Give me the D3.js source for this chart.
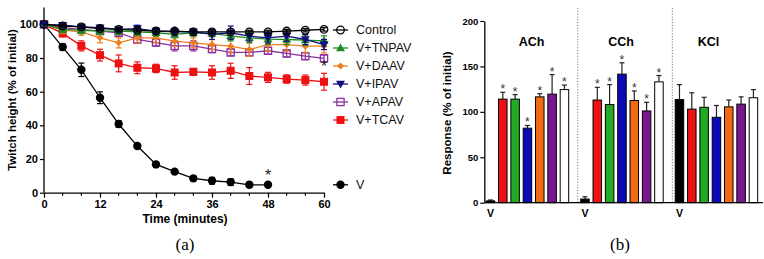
<!DOCTYPE html>
<html><head><meta charset="utf-8">
<script src="https://cdn.jsdelivr.net/npm/d3@7"></script>
<style>body{margin:0;background:#fff}svg{display:block}</style>
</head><body><svg id="c" width="764" height="259" font-family="Liberation Sans, Arial, sans-serif"></svg>
<script>
// ---------- Panel (a) data ----------
const times = [0,4,8,12,16,20,24,28,32,36,40,44,48,52,56,60];
const timesV = [0,4,8,12,16,20,24,28,32,36,40,44,48];
const controlVals = [100,99,98.5,97.5,97,96.5,96,96,95.5,95.5,95.5,95.5,95.5,96,96.5,97];
const controlErr  = [0,1,1,1,1,1,1,1,1,1,1,1,1,1,1,1];
const tnpavVals = [100,97,96.5,96,96,95.5,95,94,95,94.6,93.2,92,91.2,91,90.6,90.2];
const tnpavErr  = [0,2,2,2,2,2,2,2,2,2,3,3,3,3,3,3];
const daavVals = [100,96.5,95.5,92,89,92,92,90,89,88,87,85,88,88,87,87];
const daavErr  = [0,2,2,3,3,3,3,3,3,3,4,4,4,4,4,4];
const ipavVals = [100,99.5,98.5,98,97,97.5,96,95.5,95.5,94,95,93,92,93,91,88];
const ipavErr  = [0,1,1,1,1,2,2,2,2,3,4,3,3,3,3,3];
const apavVals = [100,98,97,96,95,91,89.2,87.2,87.2,85.3,83.3,83.3,84.3,82.7,81.1,79.8];
const apavErr  = [0,1,2,2,2,2,2,3,3,2,2,2,2,2,2,2];
const tcavVals = [100,94.6,87.2,81.7,76.8,74.2,73.8,71.4,71.8,71.4,72.4,69.3,68.5,67.5,66.9,65.9];
const tcavErr  = [0,2,3,3.5,5,3.5,2.5,4,2,4,4.5,5,3,2.5,3,5];
const vVals = [100,86.5,73,56.4,40.8,27.7,16.8,12.5,8.5,7.1,6.3,4.7,4.7];
const vErr  = [0,2,4,3.5,2,1.5,1.5,1,1.5,2,2,1.5,1];
const xTicksA = [0,12,24,36,48,60];
const yTicksA = [0,20,40,60,80,100];

// ---------- Panel (b) data ----------
const groups = ["ACh","CCh","KCl"];
const treatments = ["V","V+TCAV","V+TNPAV","V+IPAV","V+DAAV","V+APAV","Control"];
const achVals = [2,114,114,82,116.5,119.5,124.5];
const achErr  = [1,7.5,5,3,3.5,21.5,5];
const cchVals = [4,113,108,141.5,112.5,101,133];
const cchErr  = [2.5,14,22,12.5,10.5,9.5,7];
const kclVals = [113.5,103,105,94,105.5,108.5,115.5];
const kclErr  = [16.5,18,11,13,7.5,8,9];
const achSig = [0,1,1,1,1,1,1];
const cchSig = [0,1,1,1,1,1,1];
const kclSig = [0,0,0,0,0,0,0];
const yTicksB = [0,50,100,150,200];

const SANS = '"Liberation Sans", Arial, sans-serif';
const SERIF = '"Liberation Serif", "Times New Roman", serif';
const svg = d3.select("#c");
svg.append("rect").attr("width",764).attr("height",259).attr("fill","#fff");

// ================= Panel (a) =================
const xA = d3.scaleLinear().domain([0,60]).range([44,324]);
const yA = d3.scaleLinear().domain([0,110]).range([192.7,7.5]);
const gA = svg.append("g");

const xAxisA = d3.axisBottom(xA).tickValues(xTicksA).tickSize(5).tickSizeOuter(0).tickPadding(3);
const gx = gA.append("g").attr("transform",`translate(0,${yA(0)})`).call(xAxisA);
gx.append("g").selectAll("line").data(d3.range(0,61,4).filter(t=>t%12!==0)).join("line")
  .attr("x1",d=>xA(d)).attr("x2",d=>xA(d)).attr("y1",0).attr("y2",3).attr("stroke","#000").attr("stroke-width",1.2);
const yAxisA = d3.axisLeft(yA).tickValues(yTicksA).tickSize(4).tickSizeOuter(0).tickPadding(2);
const gy = gA.append("g").attr("transform",`translate(${xA(0)},0)`).call(yAxisA);
[gx,gy].forEach(g=>{
  g.attr("font-family",null);
  g.select(".domain").attr("stroke","#000").attr("stroke-width",1.3);
  g.selectAll(".tick line").attr("stroke","#000").attr("stroke-width",1.2);
  g.selectAll("text").attr("font-size",11).attr("font-weight","bold").attr("fill","#000").style("font-family",SANS);
});
gy.select(".domain").attr("d",`M0,${yA(110)}V${yA(0)}`);

gA.append("text").attr("transform","translate(13,100) rotate(-90)").attr("text-anchor","middle")
  .attr("dominant-baseline","middle").attr("font-size",11.5).attr("font-weight","bold").text("Twitch height (% of initial)");
gA.append("text").attr("x",185).attr("y",223).attr("text-anchor","middle")
  .attr("font-size",12).attr("font-weight","bold").text("Time (minutes)");

const seriesA = [
  {name:"Control", t:times, v:controlVals, e:controlErr, color:"#000", sym:"circleOpen"},
  {name:"V+TNPAV", t:times, v:tnpavVals, e:tnpavErr, color:"#1e8c1e", sym:"triUp"},
  {name:"V+DAAV", t:times, v:daavVals, e:daavErr, color:"#f07d1c", sym:"diamond"},
  {name:"V+IPAV", t:times, v:ipavVals, e:ipavErr, color:"#101080", sym:"triDown"},
  {name:"V+APAV", t:times, v:apavVals, e:apavErr, color:"#8a2f9e", sym:"squareOpen"},
  {name:"V+TCAV", t:times, v:tcavVals, e:tcavErr, color:"#ee1111", sym:"square"},
  {name:"V", t:timesV, v:vVals, e:vErr, color:"#000", sym:"circle"}
];

function drawSym(g, sym, x, y, color){
  if(sym==="circleOpen") g.append("circle").attr("cx",x).attr("cy",y).attr("r",3.8).attr("fill","none").attr("stroke",color).attr("stroke-width",1.3);
  else if(sym==="circle") g.append("circle").attr("cx",x).attr("cy",y).attr("r",4.2).attr("fill",color);
  else if(sym==="square") g.append("rect").attr("x",x-4).attr("y",y-4).attr("width",8).attr("height",8).attr("fill",color);
  else if(sym==="squareOpen") g.append("rect").attr("x",x-3.6).attr("y",y-3.6).attr("width",7.2).attr("height",7.2).attr("fill","none").attr("stroke",color).attr("stroke-width",1.3);
  else if(sym==="triUp") g.append("path").attr("d",`M${x},${y-4.5}L${x+4.5},${y+3.2}L${x-4.5},${y+3.2}Z`).attr("fill",color);
  else if(sym==="triDown") g.append("path").attr("d",`M${x},${y+4.5}L${x+4.5},${y-3.2}L${x-4.5},${y-3.2}Z`).attr("fill",color);
  else if(sym==="diamond") g.append("path").attr("d",`M${x},${y-3.5}L${x+3.5},${y}L${x},${y+3.5}L${x-3.5},${y}Z`).attr("fill",color);
}

const line = d3.line().x(d=>xA(d[0])).y(d=>yA(d[1]));
const order = ["V","V+TCAV","V+APAV","V+DAAV","V+TNPAV","V+IPAV","Control"];
order.forEach(n=>{
  const s = seriesA.find(q=>q.name===n);
  const g = gA.append("g");
  const pts = s.t.map((t,i)=>[t,s.v[i],s.e[i]]);
  g.append("path").attr("d",line(pts)).attr("fill","none").attr("stroke",s.color).attr("stroke-width",1.3);
  pts.forEach(p=>{
    if(p[2]>0){
      const x=xA(p[0]), y1=yA(p[1]-p[2]), y2=yA(p[1]+p[2]);
      g.append("line").attr("x1",x).attr("x2",x).attr("y1",y1).attr("y2",y2).attr("stroke",s.color).attr("stroke-width",1.2);
      [y1,y2].forEach(yy=>g.append("line").attr("x1",x-3).attr("x2",x+3).attr("y1",yy).attr("y2",yy).attr("stroke",s.color).attr("stroke-width",1.2));
    }
  });
  pts.forEach(p=>drawSym(g,s.sym,xA(p[0]),yA(p[1]),s.color));
});
// asterisks
gA.append("text").attr("x",xA(48)).attr("y",yA(vVals[12])-4).attr("text-anchor","middle").attr("font-size",16).attr("fill","#222").text("*");
gA.append("text").attr("x",xA(60)).attr("y",yA(tcavVals[15]+tcavErr[15])-1).attr("text-anchor","middle").attr("font-size",16).attr("fill","#222").text("*");

// legend
const legY = {"Control":30,"V+TNPAV":48,"V+DAAV":66,"V+IPAV":84,"V+APAV":102,"V+TCAV":120,"V":yA(vVals[12])};
seriesA.forEach(s=>{
  const y = legY[s.name];
  const g = gA.append("g");
  g.append("line").attr("x1",333).attr("x2",348).attr("y1",y).attr("y2",y).attr("stroke",s.color).attr("stroke-width",1.3);
  drawSym(g,s.sym,340.5,y,s.color);
  g.append("text").attr("x",356).attr("y",y).attr("dominant-baseline","central").attr("font-size",12.5).attr("fill","#111").text(s.name);
});
svg.append("text").attr("x",185).attr("y",250).attr("text-anchor","middle").style("font-family",SERIF).attr("font-size",17).text("(a)");

// ================= Panel (b) =================
const yB = d3.scaleLinear().domain([0,200]).range([202.7,21]);
const xG = d3.scaleBand().domain(groups).range([484.3,484.3+94.5*3]).padding(0);
const xT = d3.scaleBand().domain(treatments).range([0,86.3]).paddingInner(0.31).paddingOuter(0.155);
const barColors = ["#000000","#ee1111","#22aa22","#0a0ab8","#f26b12","#7a168e","#ffffff"];
const labelShift = {"ACh":0,"CCh":-5,"KCl":-12};
const gB = svg.append("g");
const dataB = [
  {g:"ACh", v:achVals, e:achErr, s:achSig},
  {g:"CCh", v:cchVals, e:cchErr, s:cchSig},
  {g:"KCl", v:kclVals, e:kclErr, s:kclSig}
];
groups.slice(1).forEach(g=>{
  const x = xG(g) + xT.step()*0.155 - (xT.step()-xT.bandwidth())/2 - 1;
  gB.append("line").attr("x1",x).attr("x2",x).attr("y1",8).attr("y2",yB(0)).attr("stroke","#777").attr("stroke-width",1).attr("stroke-dasharray","1.2,1.6");
});
dataB.forEach(d=>{
  const g = gB.append("g");
  treatments.forEach((t,i)=>{
    const x = xG(d.g)+xT(t), w = xT.bandwidth();
    const top = yB(d.v[i]), cap = yB(d.v[i]+d.e[i]), cx = x+w/2;
    g.append("line").attr("x1",cx).attr("x2",cx).attr("y1",top).attr("y2",cap).attr("stroke","#222").attr("stroke-width",1.2);
    g.append("line").attr("x1",cx-2.5).attr("x2",cx+2.5).attr("y1",cap).attr("y2",cap).attr("stroke","#222").attr("stroke-width",1.2);
    g.append("rect").attr("x",x).attr("y",top).attr("width",w).attr("height",yB(0)-top)
      .attr("fill",barColors[i]).attr("stroke","#000").attr("stroke-width",1);
    if(d.s[i]) g.append("text").attr("x",cx).attr("y",cap+1).attr("text-anchor","middle").attr("font-size",12).attr("fill","#333").text("*");
  });
  g.append("text").attr("x",xG(d.g)+xG.bandwidth()/2+labelShift[d.g]).attr("y",46).attr("text-anchor","middle")
    .attr("font-size",12.5).attr("font-weight","bold").text(d.g);
  g.append("text").attr("x",xG(d.g)+xT("V")+xT.bandwidth()/2).attr("y",217).attr("text-anchor","middle")
    .attr("font-size",10.5).attr("font-weight","bold").text("V");
});
const yAxisB = d3.axisLeft(yB).tickValues(yTicksB).tickSize(4).tickSizeOuter(0).tickPadding(2);
const gyb = gB.append("g").attr("transform",`translate(484.3,0)`).call(yAxisB);
gyb.attr("font-family",null);
gB.append("line").attr("x1",484.3).attr("x2",763).attr("y1",yB(0)).attr("y2",yB(0)).attr("stroke","#000").attr("stroke-width",1.3);
gyb.select(".domain").attr("stroke","#000").attr("stroke-width",1.3);
gyb.selectAll(".tick line").attr("stroke","#000").attr("stroke-width",1.2);
gyb.selectAll("text").attr("font-size",9.5).attr("font-weight","bold").attr("fill","#000").style("font-family",SANS);
gB.append("text").attr("transform","translate(448,113) rotate(-90)").attr("text-anchor","middle")
  .attr("dominant-baseline","middle").attr("font-size",11.5).attr("font-weight","bold").text("Response (% of initial)");
svg.append("text").attr("x",620).attr("y",250).attr("text-anchor","middle").style("font-family",SERIF).attr("font-size",17).text("(b)");
</script></body></html>
